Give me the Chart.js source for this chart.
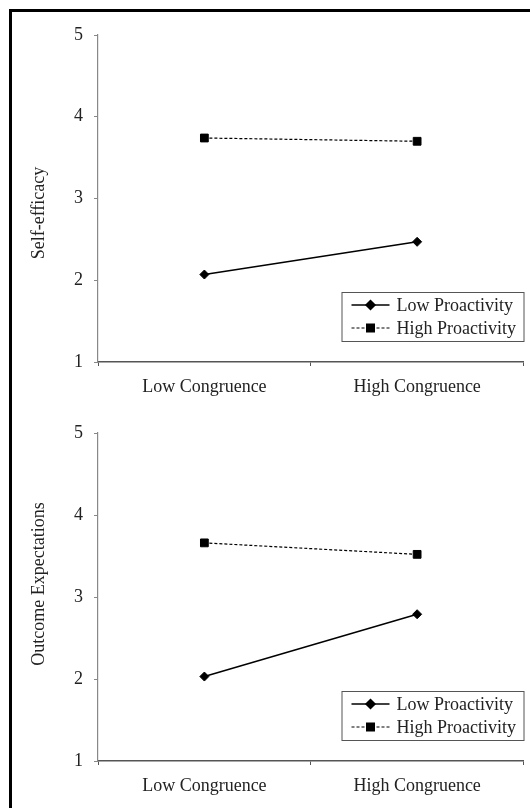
<!DOCTYPE html>
<html>
<head>
<meta charset="utf-8">
<script src="https://cdn.jsdelivr.net/npm/chart.js@4.4.1/dist/chart.umd.min.js"></script>
<style>
    html, body { margin: 0; padding: 0; background: #fff; }
    body { width: 530px; height: 808px; position: relative; overflow: hidden; }
    #frame { position: absolute; left: 9px; top: 9px; width: 600px; height: 900px; border: 3px solid #000; }
    .panel { position: absolute; left: 0; width: 530px; }
</style>
</head>
<body>
<div id="frame"></div>
<div class="panel" style="top:0;height:400px"><canvas id="chart-top"></canvas></div>
<div class="panel" style="top:398px;height:410px"><canvas id="chart-bottom"></canvas></div>

<script>
// --- Data ---
const CATEGORIES = ['Low Congruence', 'High Congruence'];
const SERIES_NAMES = ['Low Proactivity', 'High Proactivity'];
const Y_TICKS = [1, 2, 3, 4, 5];

const SELF_EFFICACY_LOW = [2.07, 2.47];
const SELF_EFFICACY_HIGH = [3.74, 3.70];

const OUTCOME_LOW = [2.03, 2.79];
const OUTCOME_HIGH = [3.66, 3.52];

const SERIF = '"Liberation Serif", "Times New Roman", serif';

// --- Plugins ---
// rotated y-axis title, placed like the original
const yTitlePlugin = {
    id: 'yTitle',
    afterDraw(chart, args, opts) {
        const ctx = chart.ctx;
        ctx.save();
        ctx.translate(opts.x, opts.y);
        ctx.rotate(-Math.PI / 2);
        ctx.font = `${opts.size}px ${SERIF}`;
        ctx.fillStyle = '#222';
        ctx.textAlign = 'center';
        ctx.textBaseline = 'middle';
        ctx.fillText(opts.text, 0, 0);
        ctx.restore();
    }
};

// boxed legend with line + marker samples, bottom right of the plot
const boxLegendPlugin = {
    id: 'boxLegend',
    afterDraw(chart) {
        const ctx = chart.ctx;
        const area = chart.chartArea;
        const w = 182, h = 49;
        const x0 = area.right - w;
        const y0 = area.bottom - 21 - h;

        ctx.save();
        ctx.fillStyle = '#fff';
        ctx.fillRect(x0, y0, w, h);
        ctx.strokeStyle = '#555';
        ctx.lineWidth = 1;
        ctx.strokeRect(x0 + 0.5, y0 + 0.5, w, h);

        chart.data.datasets.forEach((ds, i) => {
            const y = y0 + 13 + i * 23;
            ctx.strokeStyle = '#000';
            ctx.lineWidth = ds.borderWidth;
            ctx.setLineDash(ds.borderDash || []);
            ctx.beginPath();
            ctx.moveTo(x0 + 10, y);
            ctx.lineTo(x0 + 48, y);
            ctx.stroke();
            ctx.setLineDash([]);
            Chart.helpers.drawPoint(ctx, {
                pointStyle: ds.pointStyle,
                radius: ds.pointRadius,
                borderWidth: 1
            }, x0 + 29, y);
            ctx.fillStyle = '#000';
            ctx.fill();

            ctx.font = `18px ${SERIF}`;
            ctx.fillStyle = '#222';
            ctx.textAlign = 'left';
            ctx.textBaseline = 'middle';
            ctx.fillText(ds.label, x0 + 55, y + 1);
        });
        ctx.restore();
    }
};

function buildDatasets(lowVals, highVals) {
    return [
        {
            label: SERIES_NAMES[0],
            data: lowVals,
            borderColor: '#000',
            backgroundColor: '#000',
            borderWidth: 1.5,
            pointStyle: 'rectRot',
            pointRadius: 4.5,
            pointBorderWidth: 1,
            pointBackgroundColor: '#000',
            tension: 0
        },
        {
            label: SERIES_NAMES[1],
            data: highVals,
            borderColor: '#000',
            backgroundColor: '#000',
            borderWidth: 1.2,
            borderDash: [3, 2],
            pointStyle: 'rect',
            pointRadius: 5.5,
            pointBorderWidth: 1,
            pointBackgroundColor: '#000',
            tension: 0
        }
    ];
}

function makeChart(canvasId, lowVals, highVals, titleText, titleY, xAxisHeight) {
    const ctx = document.getElementById(canvasId).getContext('2d');
    return new Chart(ctx, {
        type: 'line',
        data: {
            labels: CATEGORIES,
            datasets: buildDatasets(lowVals, highVals)
        },
        options: {
            responsive: true,
            maintainAspectRatio: false,
            animation: false,
            layout: { padding: { top: 35, right: 6, bottom: 0, left: 0 } },
            plugins: {
                legend: { display: false },
                tooltip: { enabled: false },
                yTitle: { text: titleText, x: 39, y: titleY, size: 18 }
            },
            scales: {
                x: {
                    offset: true,
                    afterFit: s => { s.height = xAxisHeight; },
                    border: { color: '#555', width: 1.5 },
                    grid: {
                        offset: true,
                        drawOnChartArea: false,
                        drawTicks: true,
                        tickLength: 4,
                        color: '#555'
                    },
                    ticks: {
                        color: '#222',
                        padding: 10,
                        font: { family: SERIF, size: 18 }
                    }
                },
                y: {
                    min: 1,
                    max: 5,
                    afterFit: s => { s.width = 98; },
                    afterBuildTicks: s => { s.ticks = Y_TICKS.map(v => ({ value: v })); },
                    border: { color: '#888', width: 1.2 },
                    grid: {
                        drawOnChartArea: false,
                        drawTicks: true,
                        tickLength: 4,
                        color: '#888'
                    },
                    ticks: {
                        color: '#222',
                        padding: 11,
                        font: { family: SERIF, size: 18 }
                    }
                }
            }
        },
        plugins: [yTitlePlugin, boxLegendPlugin]
    });
}

makeChart('chart-top', SELF_EFFICACY_LOW, SELF_EFFICACY_HIGH, 'Self-efficacy', 213, 38);
makeChart('chart-bottom', OUTCOME_LOW, OUTCOME_HIGH, 'Outcome Expectations', 186, 47);
</script>
</body>
</html>
